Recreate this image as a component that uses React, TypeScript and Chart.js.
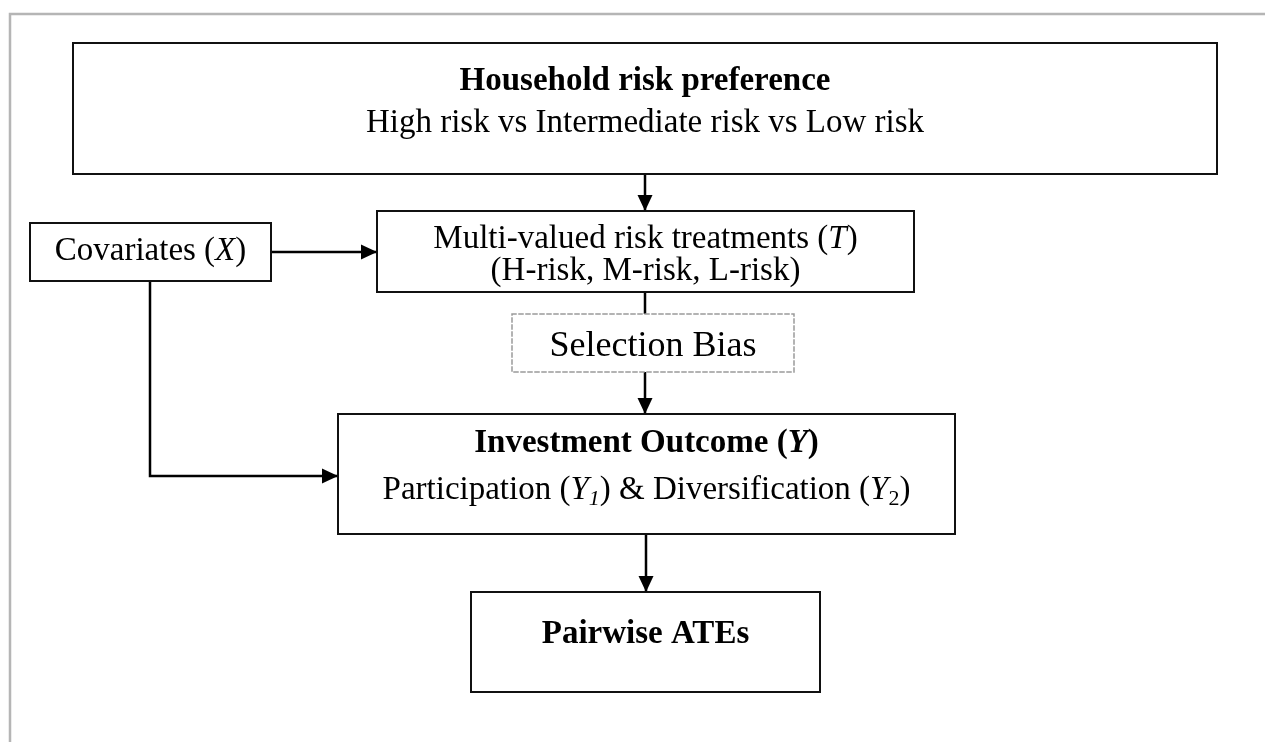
import React, { useEffect, useRef } from 'react';
import { Chart, registerables } from 'chart.js';

Chart.register(...registerables);

const W = 1265;
const H = 742;

// ---- Diagram nodes (diagram coordinates: x 0..1265, y 0..742 top-down)
const NODE_IDS = ['pref', 'treat', 'cov', 'bias', 'outcome', 'ate'];
const NODE_LEFT = [73, 377, 30, 512, 338, 471];
const NODE_RIGHT = [1217, 914, 271, 794, 955, 820];
const NODE_TOP = [43, 211, 223, 314, 414, 592];
const NODE_BOTTOM = [174, 292, 281, 372, 534, 692];
const NODE_DASHED = [false, false, false, true, false, false];

// text runs: [text, style]  r=regular b=bold i=italic bi=bold-italic s=subscript si=italic subscript
type Run = [string, string];
const PREF_TEXT: Run[][] = [
  [['Household risk preference', 'b']],
  [['High risk vs Intermediate risk vs Low risk', 'r']],
];
const TREAT_TEXT: Run[][] = [
  [['Multi-valued risk treatments (', 'r'], ['T', 'i'], [')', 'r']],
  [['(H-risk, M-risk, L-risk)', 'r']],
];
const COV_TEXT: Run[][] = [[['Covariates (', 'r'], ['X', 'i'], [')', 'r']]];
const BIAS_TEXT: Run[][] = [[['Selection Bias', 'r']]];
const OUTCOME_TEXT: Run[][] = [
  [['Investment Outcome (', 'b'], ['Y', 'bi'], [')', 'b']],
  [['Participation (', 'r'], ['Y', 'i'], ['1', 'si'], [') & Diversification (', 'r'], ['Y', 'i'], ['2', 's'], [')', 'r']],
];
const ATE_TEXT: Run[][] = [[['Pairwise ATEs', 'b']]];
const NODE_TEXT = [PREF_TEXT, TREAT_TEXT, COV_TEXT, BIAS_TEXT, OUTCOME_TEXT, ATE_TEXT];
const NODE_BASELINE = [[90, 132], [248, 280], [260], [356], [452, 499], [643]];
const NODE_FONT = [[33, 33], [33, 33], [33], [36], [33, 33], [33]];

// ---- Connectors (polylines)
const EDGE_X = [[645, 645], [271, 377], [645, 645], [645, 645], [150, 150, 338], [646, 646]];
const EDGE_Y = [[174, 211], [252, 252], [292, 314], [372, 414], [281, 476, 476], [534, 592]];
const EDGE_ARROW = [true, true, false, true, true, true];

// ---- Page frame
const FRAME_X = [10, 10, 1265];
const FRAME_Y = [742, 14, 14];

const FAMILY = '"Liberation Serif", "Times New Roman", serif';

function fontFor(style: string, size: number): string {
  const sub = Math.round(size * 0.66);
  switch (style) {
    case 'b': return `bold ${size}px ${FAMILY}`;
    case 'i': return `italic ${size}px ${FAMILY}`;
    case 'bi': return `italic bold ${size}px ${FAMILY}`;
    case 's': return `${sub}px ${FAMILY}`;
    case 'si': return `italic ${sub}px ${FAMILY}`;
    default: return `${size}px ${FAMILY}`;
  }
}

const diagramPlugin = {
  id: 'diagram',
  afterDatasetsDraw(chart: any) {
    const { ctx } = chart;
    const xs = chart.scales.x;
    const ys = chart.scales.y;
    ctx.save();
    // arrowheads
    EDGE_X.forEach((ex, i) => {
      if (!EDGE_ARROW[i]) return;
      const n = ex.length;
      const x1 = xs.getPixelForValue(ex[n - 1]);
      const y1 = ys.getPixelForValue(EDGE_Y[i][n - 1]);
      const x0 = xs.getPixelForValue(ex[n - 2]);
      const y0 = ys.getPixelForValue(EDGE_Y[i][n - 2]);
      const a = Math.atan2(y1 - y0, x1 - x0);
      const L = 16;
      const hw = 7.5;
      const c = Math.cos(a);
      const s = Math.sin(a);
      ctx.beginPath();
      ctx.moveTo(x1, y1);
      ctx.lineTo(x1 - L * c - hw * s, y1 - L * s + hw * c);
      ctx.lineTo(x1 - L * c + hw * s, y1 - L * s - hw * c);
      ctx.closePath();
      ctx.fillStyle = '#000';
      ctx.fill();
    });
    // text
    ctx.fillStyle = '#000';
    ctx.textBaseline = 'alphabetic';
    ctx.textAlign = 'left';
    NODE_IDS.forEach((_, i) => {
      const cx = (xs.getPixelForValue(NODE_LEFT[i]) + xs.getPixelForValue(NODE_RIGHT[i])) / 2;
      NODE_TEXT[i].forEach((line, li) => {
        const size = NODE_FONT[i][li];
        const base = ys.getPixelForValue(NODE_BASELINE[i][li]);
        let total = 0;
        const widths = line.map(([t, st]) => {
          ctx.font = fontFor(st, size);
          const w = ctx.measureText(t).width;
          total += w;
          return w;
        });
        let x = cx - total / 2;
        line.forEach(([t, st], ri) => {
          ctx.font = fontFor(st, size);
          const dy = st === 's' || st === 'si' ? Math.round(size * 0.18) : 0;
          ctx.fillText(t, x, base + dy);
          x += widths[ri];
        });
      });
    });
    ctx.restore();
  },
};

export default function App() {
  const ref = useRef<HTMLCanvasElement | null>(null);
  useEffect(() => {
    if (!ref.current) return;
    const datasets: any[] = [];
    datasets.push({
      data: FRAME_X.map((x, k) => ({ x, y: FRAME_Y[k] })),
      showLine: true,
      borderColor: '#b5b5b5',
      borderWidth: 2.5,
      pointRadius: 0,
      fill: false,
      borderJoinStyle: 'miter',
    });
    NODE_IDS.forEach((_, i) => {
      const l = NODE_LEFT[i], r = NODE_RIGHT[i], t = NODE_TOP[i], b = NODE_BOTTOM[i];
      datasets.push({
        data: [
          { x: l, y: t }, { x: r, y: t }, { x: r, y: b }, { x: l, y: b }, { x: l, y: t },
        ],
        showLine: true,
        borderColor: NODE_DASHED[i] ? '#9a9a9a' : '#111',
        borderWidth: NODE_DASHED[i] ? 1.5 : 2,
        borderDash: NODE_DASHED[i] ? [4, 3] : [],
        borderCapStyle: 'square',
        borderJoinStyle: 'miter',
        pointRadius: 0,
        fill: false,
      });
    });
    EDGE_X.forEach((ex, i) => {
      datasets.push({
        data: ex.map((x, k) => ({ x, y: EDGE_Y[i][k] })),
        showLine: true,
        borderColor: '#000',
        borderWidth: 2.5,
        borderJoinStyle: 'miter',
        pointRadius: 0,
        fill: false,
      });
    });
    const chart = new Chart(ref.current, {
      type: 'scatter',
      data: { datasets },
      options: {
        animation: false,
        responsive: false,
        events: [],
        layout: { padding: 0 },
        plugins: { legend: { display: false }, tooltip: { enabled: false } },
        scales: {
          x: { type: 'linear', min: 0, max: W, display: false },
          y: { type: 'linear', min: 0, max: H, reverse: true, display: false },
        },
      } as any,
      plugins: [diagramPlugin],
    });
    return () => chart.destroy();
  }, []);
  return (
    <div style={{ position: 'fixed', left: 0, top: 0, width: W, height: H, background: '#fff' }}>
      <canvas ref={ref} width={W} height={H} style={{ display: 'block', width: W, height: H }} />
    </div>
  );
}
